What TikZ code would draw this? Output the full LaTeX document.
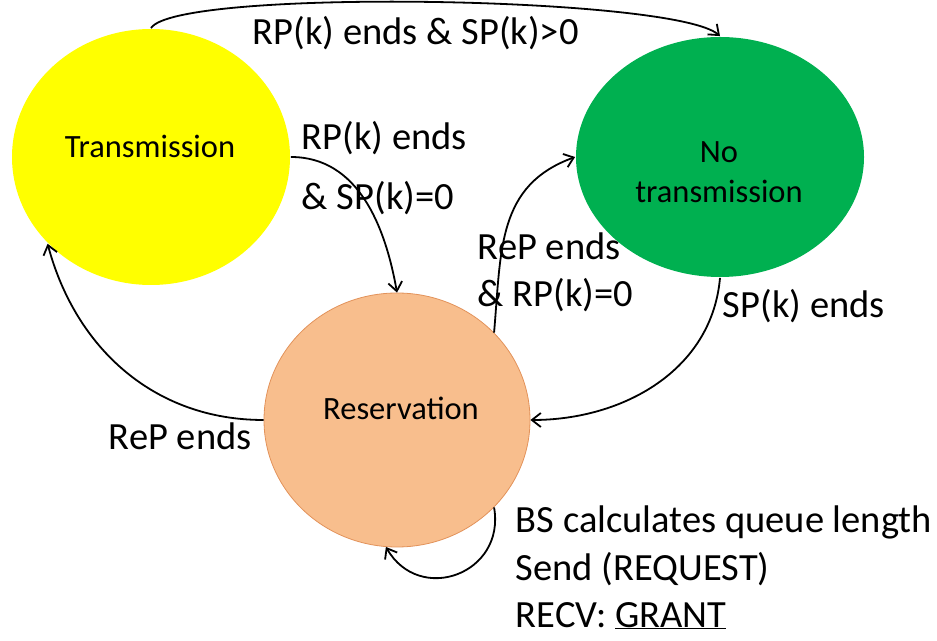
\documentclass[tikz,border=0pt]{standalone}
\usepackage{fontspec}
\setmainfont{Carlito}
\usetikzlibrary{arrows.meta,shapes.geometric}
\definecolor{txyellow}{RGB}{255,255,0}
\definecolor{ntgreen}{RGB}{0,176,80}
\definecolor{rvorange}{RGB}{248,190,141}
\definecolor{rvedge}{RGB}{226,146,90}

\begin{document}
\begin{tikzpicture}[x=1pt, y=1pt, line width=1.8pt, >={Straight Barb[length=9pt,width=14pt]},
  state/.style={ellipse, inner sep=0pt},
  stxt/.style={font=\fontsize{32.5}{40}\selectfont, align=center, inner sep=0pt},
  lbl/.style={font=\fontsize{38.5}{47}\selectfont, align=left, inner sep=0pt, anchor=base west}]
  \useasboundingbox (0,0) rectangle (937,640);
  % estados
  \node[state, fill=txyellow, minimum width=278pt, minimum height=256pt] (tx) at (151,483) {};
  \node[state, fill=ntgreen, minimum width=288pt, minimum height=240pt] (nt) at (720,483) {};
  \node[state, fill=rvorange, draw=rvedge, line width=0.8pt, minimum width=266pt, minimum height=254pt] (rv) at (397,220) {};
  % nombres de los estados (base = ultima linea)
  \node[stxt, anchor=base] (txname) at (150,482) {Transmission};
  \node[stxt, anchor=base] (ntname) at (719,437) {No\\transmission};
  \node[stxt, anchor=base] (rvname) at (401,220) {Reservation};
  % transiciones
  \draw[->] (tx.north) .. controls +(25,40) and +(-45,40) .. (nt.north);
  \draw[->] (tx.east) to[out=0, in=100] (rv.north);
  \draw[->] (rv.42) to[out=85, in=200, looseness=1.1] (nt.west);
  \draw[->] (nt.south) to[out=-95, in=0] (rv.east);
  \draw[->] (rv.west) to[out=180, in=-75] (tx.220);
  \draw[->] (rv.-42) to[out=-80, in=-60, looseness=1.5] (rv.265);
  % etiquetas
  \node[lbl] (lbltop) at (252,595) {RP(k) ends \& SP(k)>0};
  \node[lbl] (lbltxrv) at (301,430) {RP(k) ends\\[13pt]\& SP(k)=0};
  \node[lbl] (lblrvnt) at (477,333) {ReP ends\\\& RP(k)=0};
  \node[lbl] (lblntrv) at (722,322) {SP(k) ends};
  \node[lbl] (lblrvtx) at (108,190) {ReP ends};
  \node[lbl] (lblloop) at (515,13) {BS calculates queue length\\Send (REQUEST)\\RECV: \underline{GRANT}};
\end{tikzpicture}
\end{document}
